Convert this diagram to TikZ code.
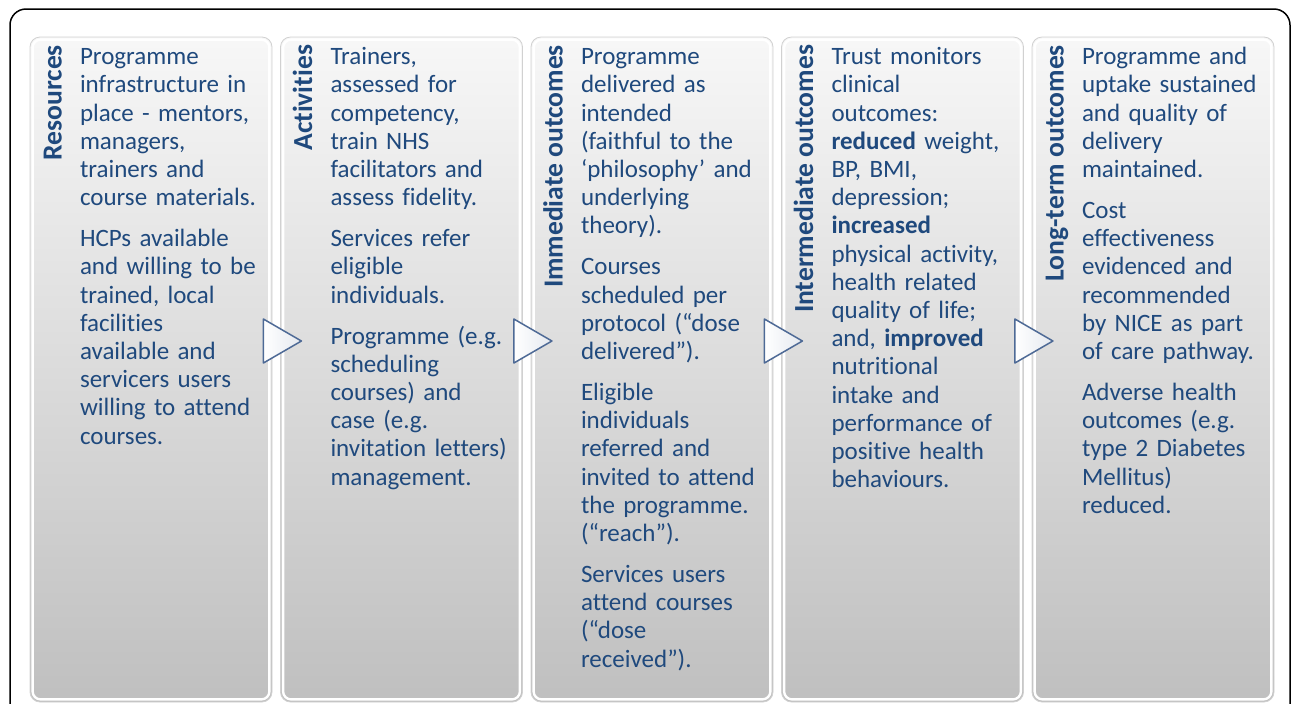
\documentclass[tikz,border=0pt]{standalone}
\usepackage{fontspec}
\setmainfont{Carlito}[Ligatures=NoCommon]
\usetikzlibrary{calc}
\definecolor{txtblue}{RGB}{31,73,125}
\definecolor{triedge}{RGB}{78,106,150}
\tikzset{
  panel/.style={rounded corners=5pt, minimum width=121pt, minimum height=332.5pt,
    top color=white!97!black, bottom color=white!75!black, draw=white!82!black, line width=0.4pt},
  coltitle/.style={rotate=90, anchor=base east, inner sep=0pt, text=txtblue,
    font=\fontsize{13.8}{16}\selectfont\bfseries},
  colbody/.style={anchor=base west, inner sep=0pt, text width=100pt, align=left, text=txtblue,
    font=\fontsize{12.5}{14.1}\selectfont},
  tri/.style={draw=triedge, line width=0.75pt, line join=round, left color=white, right color=white!85!triedge},
}

\begin{document}
\begin{tikzpicture}[x=0.5pt,y=-0.5pt]
  \useasboundingbox (0,0) rectangle (1292,703);
  \clip (0,0) rectangle (1292,703);
  \def\pitch{250.5} % column spacing

  % outer frame
  \draw[line width=0.75pt, rounded corners=8pt] (10,9) rectangle (1290,760);

  \foreach \i in {1,...,5}{
    \node[panel] (p\i) at (151+\pitch*\i-\pitch, 369.5) {};
    \draw[white, line width=1.2pt, rounded corners=4pt]
      ($(p\i.north west)+(3,3)$) rectangle ($(p\i.south east)+(-3,-3)$);
  }
  \foreach \i in {1,...,4}
    \draw[tri] ($(p\i.east)+(-9,-50.5)$) -- ++(0,44) -- ++(38,-22) -- cycle;

  \node[coltitle] (t1) at ($(p1.north west)+(32,8)$) {Resources};
  \node[coltitle] (t2) at ($(p2.north west)+(32,8)$) {Activities};
  \node[coltitle] (t3) at ($(p3.north west)+(32,8)$) {Immediate outcomes};
  \node[coltitle] (t4) at ($(p4.north west)+(32,8)$) {Intermediate outcomes};
  \node[coltitle] (t5) at ($(p5.north west)+(32,8)$) {Long-term outcomes};

  \node[colbody] (b1) at ($(p1.north west)+(50,28)$) {Programme\\ infrastructure in\\ place - mentors,\\ managers,\\ trainers and\\ course materials.\\[6.4pt]
    HCPs available\\ and willing to be\\ trained, local\\ facilities\\ available and\\ servicers users\\ willing to attend\\ courses.};
  \node[colbody] (b2) at ($(p2.north west)+(50,28)$) {Trainers,\\ assessed for\\ competency,\\ train NHS\\ facilitators and\\ assess fidelity.\\[6.4pt]
    Services refer\\ eligible\\ individuals.\\[6.4pt]
    Programme (e.g.\\ scheduling\\ courses) and\\ case (e.g.\\ invitation letters)\\ management.};
  \node[colbody] (b3) at ($(p3.north west)+(50,28)$) {Programme\\ delivered as\\ intended\\ (faithful to the\\ ‘philosophy’ and\\ underlying\\ theory).\\[6.4pt]
    Courses\\ scheduled per\\ protocol (“dose\\ delivered”).\\[6.4pt]
    Eligible\\ individuals\\ referred and\\ invited to attend\\ the programme.\\ (“reach”).\\[6.4pt]
    Services users\\ attend courses\\ (“dose\\ received”).};
  \node[colbody] (b4) at ($(p4.north west)+(50,28)$) {Trust monitors\\ clinical\\ outcomes:\\ \textbf{reduced} weight,\\ BP, BMI,\\ depression;\\ \textbf{increased}\\ physical activity,\\ health related\\ quality of life;\\ and, \textbf{improved}\\ nutritional\\ intake and\\ performance of\\ positive health\\ behaviours.};
  \node[colbody] (b5) at ($(p5.north west)+(50,28)$) {Programme and\\ uptake sustained\\ and quality of\\ delivery\\ maintained.\\[6.4pt]
    Cost\\ effectiveness\\ evidenced and\\ recommended\\ by NICE as part\\ of care pathway.\\[6.4pt]
    Adverse health\\ outcomes (e.g.\\ type 2 Diabetes\\ Mellitus)\\ reduced.};
\end{tikzpicture}
\end{document}
